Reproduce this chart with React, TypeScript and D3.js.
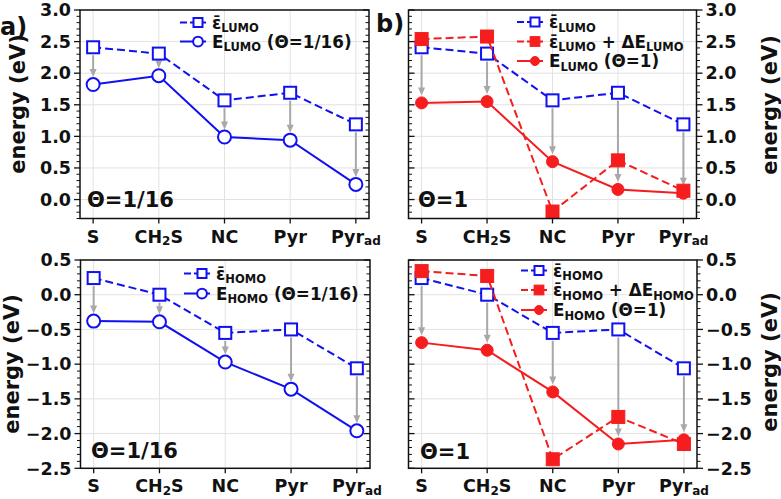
import React from 'react';
import * as d3 from 'd3';

// ---------- data ----------
const categories = ['S', 'CH2S', 'NC', 'Pyr', 'Pyrad'];
type Seg = [string, boolean?];
const xTickLabels: Seg[][] = [
  [['S']],
  [['CH'], ['2', true], ['S']],
  [['NC']],
  [['Pyr']],
  [['Pyr'], ['ad', true]],
];

const lumoEpsBar = [2.41, 2.31, 1.57, 1.69, 1.19];
const lumoE16 = [1.82, 1.96, 0.99, 0.94, 0.24];
const lumoEpsDelta = [2.54, 2.58, -0.19, 0.62, 0.14];
const lumoE1 = [1.53, 1.55, 0.6, 0.16, 0.1];

const homoEpsBar = [0.24, 0.0, -0.55, -0.5, -1.06];
const homoE16 = [-0.38, -0.39, -0.97, -1.36, -1.96];
const homoEpsDelta = [0.34, 0.27, -2.37, -1.76, -2.15];
const homoE1 = [-0.69, -0.8, -1.4, -2.15, -2.09];

const lumoDomain: [number, number] = [-0.3, 3.0];
const homoDomain: [number, number] = [-2.5, 0.5];

const lblLumoBar: Seg[] = [['ε̄'], ['LUMO', true]];
const lblLumoE16: Seg[] = [['E'], ['LUMO', true], [' (Θ=1/16)']];
const lblLumoDelta: Seg[] = [['ε̄'], ['LUMO', true], [' + ΔE'], ['LUMO', true]];
const lblLumoE1: Seg[] = [['E'], ['LUMO', true], [' (Θ=1)']];
const lblHomoBar: Seg[] = [['ε̄'], ['HOMO', true]];
const lblHomoE16: Seg[] = [['E'], ['HOMO', true], [' (Θ=1/16)']];
const lblHomoDelta: Seg[] = [['ε̄'], ['HOMO', true], [' + ΔE'], ['HOMO', true]];
const lblHomoE1: Seg[] = [['E'], ['HOMO', true], [' (Θ=1)']];

// ---------- styles ----------
const BLUE = '#1010f0';
const RED = '#f51d1d';
const GRAY = '#a8a8a8';
const FONT = '"DejaVu Sans", Verdana, sans-serif';

type SeriesStyle = 'blueSq' | 'redSq' | 'blueCirc' | 'redCirc';
interface Series { values: number[]; style: SeriesStyle; label: Seg[] }

function Rich({ segs, size, sub, shift }: { segs: Seg[]; size: number; sub: number; shift: number }) {
  const out: React.ReactNode[] = [];
  let lowered = false;
  segs.forEach((s, i) => {
    const isSub = !!s[1];
    let dy = 0;
    if (isSub && !lowered) { dy = shift; lowered = true; }
    else if (!isSub && lowered) { dy = -shift; lowered = false; }
    out.push(
      <tspan key={i} dy={dy || undefined} fontSize={isSub ? sub : size}>{s[0]}</tspan>
    );
  });
  return <>{out}</>;
}

function Marker({ style, cx, cy, scale = 1 }: { style: SeriesStyle; cx: number; cy: number; scale?: number }) {
  if (style === 'blueSq') {
    const s = 12 * scale;
    return <rect x={cx - s / 2} y={cy - s / 2} width={s} height={s} fill="white" stroke={BLUE} strokeWidth={2} />;
  }
  if (style === 'redSq') {
    const s = 13 * scale;
    return <rect x={cx - s / 2} y={cy - s / 2} width={s} height={s} fill={RED} stroke={RED} strokeWidth={1} />;
  }
  if (style === 'blueCirc') {
    return <circle cx={cx} cy={cy} r={6.5 * scale} fill="white" stroke={BLUE} strokeWidth={2} />;
  }
  return <circle cx={cx} cy={cy} r={6 * scale} fill={RED} stroke={RED} strokeWidth={1} />;
}

const colorOf = (s: SeriesStyle) => (s === 'blueSq' || s === 'blueCirc' ? BLUE : RED);
const dashOf = (s: SeriesStyle) => (s === 'blueSq' || s === 'redSq' ? '8,4' : undefined);

interface PanelCfg {
  x0: number; x1: number; y0: number; y1: number;
  domain: [number, number];
  side: 'left' | 'right';
  series: Series[];
  arrowFrom: number[];
  arrowTo: number[];
  legendX: number;
  legendY: number[];
  theta: string;
  thetaX: number;
  thetaY: number;
}

function Panel({ c }: { c: PanelCfg }) {
  const x = d3.scaleLinear().domain([-0.2, 4.2]).range([c.x0, c.x1]);
  const y = d3.scaleLinear().domain(c.domain).range([c.y1, c.y0]);
  const majors = d3.range(Math.ceil(c.domain[0] / 0.5 - 1e-9), Math.floor(c.domain[1] / 0.5 + 1e-9) + 1).map(i => i * 0.5 + 0);
  const minors = d3
    .range(Math.ceil(c.domain[0] * 10 - 1e-9), Math.floor(c.domain[1] * 10 + 1e-9) + 1)
    .filter(i => i % 5 !== 0)
    .map(i => i / 10);
  const fmt = d3.format('.1f');
  const outerX = c.side === 'left' ? c.x0 : c.x1;
  const innerX = c.side === 'left' ? c.x1 : c.x0;
  const outDir = c.side === 'left' ? -1 : 1;
  const idx = categories.map((_, i) => i);
  const line = (vals: number[]) =>
    d3.line<number>().x((_, i) => x(i)).y(v => y(v))(vals) || '';

  return (
    <g>
      <defs>
        <clipPath id={`clip-${c.x0}-${c.y0}`}>
          <rect x={c.x0} y={c.y0} width={c.x1 - c.x0} height={c.y1 - c.y0} />
        </clipPath>
      </defs>
      {/* grid */}
      {majors.map(m => (
        <line key={'gy' + m} x1={c.x0} x2={c.x1} y1={y(m)} y2={y(m)} stroke="#e2e2e2" strokeWidth={1} />
      ))}
      {idx.map(i => (
        <line key={'gx' + i} x1={x(i)} x2={x(i)} y1={c.y0} y2={c.y1} stroke="#e2e2e2" strokeWidth={1} />
      ))}
      {/* arrows */}
      {idx.map(i => {
        const ys = y(c.arrowFrom[i]) + 8;
        const ye = y(c.arrowTo[i]) - 7.5;
        const head = 8;
        const xi = x(i);
        return (
          <g key={'ar' + i}>
            <line x1={xi} x2={xi} y1={ys} y2={Math.max(ys, ye - head + 1)} stroke={GRAY} strokeWidth={2} />
            <path d={`M${xi - 3.5},${ye - head}L${xi + 3.5},${ye - head}L${xi},${ye}Z`} fill={GRAY} />
          </g>
        );
      })}
      {/* series */}
      <g clipPath={`url(#clip-${c.x0}-${c.y0})`}>
        {c.series.map((s, k) => (
          <g key={'s' + k}>
            <path d={line(s.values)} fill="none" stroke={colorOf(s.style)} strokeWidth={2} strokeDasharray={dashOf(s.style)} />
            {s.values.map((v, i) => (
              <Marker key={i} style={s.style} cx={x(i)} cy={y(v)} />
            ))}
          </g>
        ))}
      </g>
      {/* frame */}
      <rect x={c.x0} y={c.y0} width={c.x1 - c.x0} height={c.y1 - c.y0} fill="none" stroke="#111" strokeWidth={1.5} />
      {/* y ticks */}
      {majors.map(m => (
        <g key={'t' + m}>
          <line x1={outerX} x2={outerX + outDir * 6} y1={y(m)} y2={y(m)} stroke="#111" strokeWidth={1.3} />
          <line x1={innerX} x2={innerX + outDir * 6} y1={y(m)} y2={y(m)} stroke="#111" strokeWidth={1.3} />
          <text
            x={c.side === 'left' ? outerX - 9 : outerX + 9}
            y={y(m)}
            dy="0.36em"
            textAnchor={c.side === 'left' ? 'end' : 'start'}
            fontSize={17.5}
            fontWeight="bold"
            fontFamily={FONT}
            fill="#111"
          >
            {fmt(m)}
          </text>
        </g>
      ))}
      {minors.map(m => (
        <g key={'mt' + m}>
          <line x1={outerX} x2={outerX + outDir * 3.5} y1={y(m)} y2={y(m)} stroke="#111" strokeWidth={1} />
          <line x1={innerX} x2={innerX + outDir * 3.5} y1={y(m)} y2={y(m)} stroke="#111" strokeWidth={1} />
        </g>
      ))}
      {/* x ticks */}
      {idx.map(i => (
        <g key={'xt' + i}>
          <line x1={x(i)} x2={x(i)} y1={c.y1} y2={c.y1 + 5} stroke="#111" strokeWidth={1.3} />
          <text x={x(i)} y={c.y1 + 24} textAnchor="middle" fontWeight="bold" fontFamily={FONT} fill="#111" style={{ whiteSpace: 'pre' }}>
            <Rich segs={xTickLabels[i]} size={17.5} sub={12} shift={2.5} />
          </text>
        </g>
      ))}
      {/* legend */}
      {c.series.map((s, k) => {
        const tx = c.legendX;
        const yb = c.legendY[k];
        const yc = yb - 6;
        return (
          <g key={'lg' + k}>
            <line x1={tx - 32} x2={tx - 6} y1={yc} y2={yc} stroke={colorOf(s.style)} strokeWidth={2} strokeDasharray={dashOf(s.style) ? '7,3' : undefined} />
            <Marker style={s.style} cx={tx - 14} cy={yc} scale={0.75} />
            <text x={tx} y={yb} fontWeight="bold" fontFamily={FONT} fill="#111" style={{ whiteSpace: 'pre' }}>
              <Rich segs={s.label} size={16.8} sub={11.5} shift={3.5} />
            </text>
          </g>
        );
      })}
      {/* theta label */}
      <text x={c.thetaX} y={c.thetaY} fontSize={21} fontWeight="bold" fontFamily={FONT} fill="#111">
        {c.theta}
      </text>
    </g>
  );
}

export default function App() {
  const panels: PanelCfg[] = [
    {
      x0: 80, x1: 369, y0: 10, y1: 218.5, domain: lumoDomain, side: 'left',
      series: [
        { values: lumoEpsBar, style: 'blueSq', label: lblLumoBar },
        { values: lumoE16, style: 'blueCirc', label: lblLumoE16 },
      ],
      arrowFrom: lumoEpsBar, arrowTo: lumoE16,
      legendX: 212, legendY: [28.5, 47.5],
      theta: 'Θ=1/16', thetaX: 87, thetaY: 207,
    },
    {
      x0: 408.5, x1: 696.5, y0: 10, y1: 218.5, domain: lumoDomain, side: 'right',
      series: [
        { values: lumoEpsBar, style: 'blueSq', label: lblLumoBar },
        { values: lumoEpsDelta, style: 'redSq', label: lblLumoDelta },
        { values: lumoE1, style: 'redCirc', label: lblLumoE1 },
      ],
      arrowFrom: lumoEpsBar, arrowTo: lumoE1,
      legendX: 549, legendY: [28, 47.5, 67],
      theta: 'Θ=1', thetaX: 418, thetaY: 207,
    },
    {
      x0: 80.5, x1: 370, y0: 260, y1: 468.3, domain: homoDomain, side: 'left',
      series: [
        { values: homoEpsBar, style: 'blueSq', label: lblHomoBar },
        { values: homoE16, style: 'blueCirc', label: lblHomoE16 },
      ],
      arrowFrom: homoEpsBar, arrowTo: homoE16,
      legendX: 216, legendY: [279.5, 299.5],
      theta: 'Θ=1/16', thetaX: 91, thetaY: 458,
    },
    {
      x0: 408.5, x1: 697, y0: 260, y1: 468.3, domain: homoDomain, side: 'right',
      series: [
        { values: homoEpsBar, style: 'blueSq', label: lblHomoBar },
        { values: homoEpsDelta, style: 'redSq', label: lblHomoDelta },
        { values: homoE1, style: 'redCirc', label: lblHomoE1 },
      ],
      arrowFrom: homoEpsBar, arrowTo: homoE1,
      legendX: 553, legendY: [276.5, 296, 316],
      theta: 'Θ=1', thetaX: 420, thetaY: 459,
    },
  ];
  const yLabel = (cx: number, cy: number, key: string) => (
    <text key={key} transform={`translate(${cx},${cy}) rotate(-90)`} textAnchor="middle" dy="0.35em" fontSize={21} fontWeight="bold" fontFamily={FONT} fill="#111">
      energy (eV)
    </text>
  );
  return (
    <svg width={781} height={499} style={{ position: 'absolute', left: 0, top: 0, background: 'white' }}>
      <rect x={0} y={0} width={781} height={499} fill="white" />
      {panels.map((p, i) => <Panel key={i} c={p} />)}
      {yLabel(18, 104, 'l1')}
      {yLabel(770, 105, 'l2')}
      {yLabel(12, 364, 'l3')}
      {yLabel(770, 362, 'l4')}
      <text x={0} y={35} fontSize={24} fontWeight="bold" fontFamily={FONT} fill="#111">a)</text>
      <text x={376} y={32} fontSize={24} fontWeight="bold" fontFamily={FONT} fill="#111">b)</text>
    </svg>
  );
}
